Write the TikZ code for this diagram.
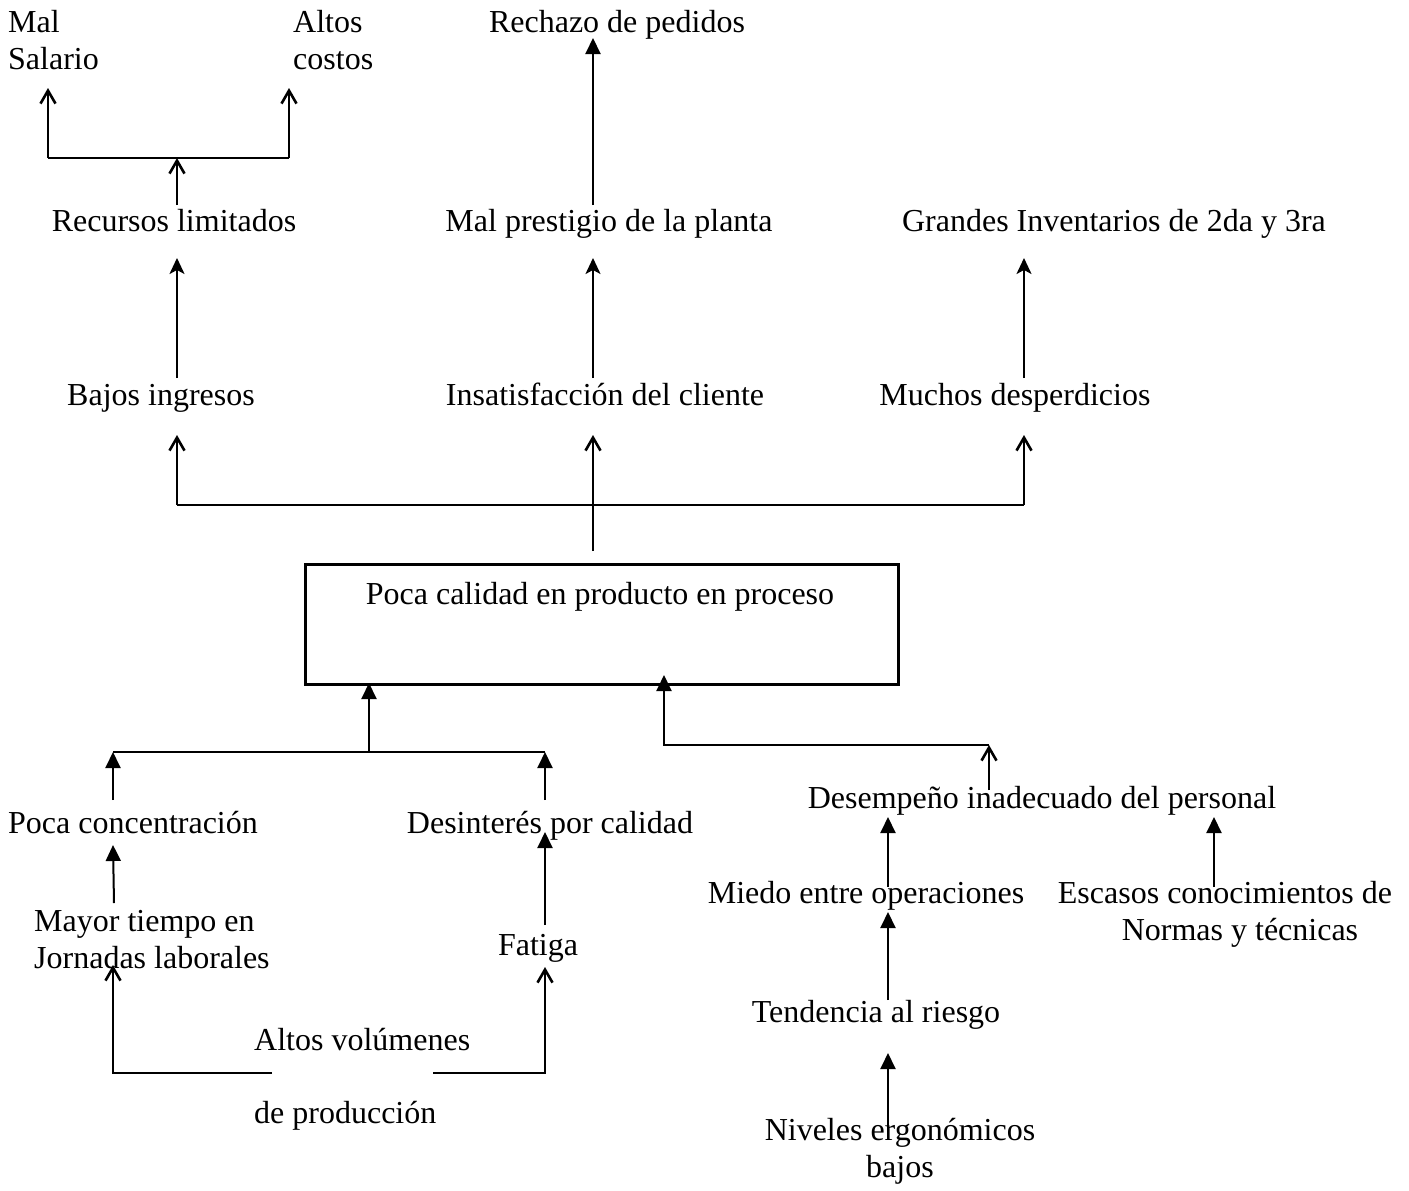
\documentclass[tikz,border=0pt]{standalone}
\usepackage{fontspec}
\setmainfont{Liberation Serif}
\usetikzlibrary{arrows.meta}
\begin{document}
\begin{tikzpicture}[x=1pt,y=-1pt,
  font=\fontsize{32}{37}\selectfont,
  lbl/.style={anchor=base, inner sep=0pt, align=center},
  lbll/.style={anchor=base west, inner sep=0pt, align=left},
  wire/.style={line width=2pt},
  openhd/.style={wire, -{Straight Barb[length=13pt,width=15pt,line width=2.6pt]}},
  stl/.style={wire, -{Stealth[length=16pt,width=15pt,inset=4pt]}},
  tri/.style={wire, -{Triangle[length=16pt,width=15pt]}},
]
\useasboundingbox (0,0) rectangle (1409,1191);

% ---- consequences (top) ----
% multi-line labels are placed by the baseline of their last line
\node[lbll] (salario) at (8,69) {Mal\\Salario};
\node[lbll] (costos) at (293,69) {Altos\\costos};
\node[lbl] (rechazo) at (617,32) {Rechazo de pedidos};
\node[lbl] (recursos) at (174,231) {Recursos limitados};
\node[lbl] (prestigio) at (609,231) {Mal prestigio de la planta};
\node[lbl] (inventarios) at (1114,231) {Grandes Inventarios de 2da y 3ra};
\node[lbl] (bajos) at (161,405) {Bajos ingresos};
\node[lbl] (insat) at (605,405) {Insatisfacción del cliente};
\node[lbl] (desperd) at (1015,405) {Muchos desperdicios};

% ---- central problem ----
\node[draw, line width=2.5pt, minimum width=593pt, minimum height=120pt,
      inner sep=0pt, anchor=north west] (box) at (304,563) {};
\node[lbl] (boxtext) at (600,604) {Poca calidad en producto en proceso};

% ---- causes (bottom) ----
\node[lbl] (concent) at (133,833) {Poca concentración};
\node[lbl] (desint) at (550,833) {Desinterés por calidad};
\node[lbll] (jornadas) at (34,968) {Mayor tiempo en\\Jornadas laborales};
\node[lbl] (fatiga) at (538,955) {Fatiga};
\node[lbll] (volumen) at (254,1123) {Altos volúmenes\\[36pt]de producción};
\node[lbl] (desemp) at (1042,808) {Desempeño inadecuado del personal};
\node[lbl] (miedo) at (866,903) {Miedo entre operaciones};
\node[lbl] (escasos) at (1225,940) {Escasos conocimientos de\\\hspace*{30pt}Normas y técnicas};
\node[lbl] (tendencia) at (876,1022) {Tendencia al riesgo};
\node[lbl] (niveles) at (900,1177) {Niveles ergonómicos\\bajos};

% ---- junction and end points ----
\coordinate (rA) at (177,205);   \coordinate (rJ) at (177,158);
\coordinate (rL) at (48,158);    \coordinate (rLt) at (48,88);
\coordinate (rR) at (289,158);   \coordinate (rRt) at (289,88);
\coordinate (pA) at (593,205);   \coordinate (pT) at (593,38);
\coordinate (bA) at (177,378);   \coordinate (bT) at (177,258);
\coordinate (iA) at (593,378);   \coordinate (iT) at (593,258);
\coordinate (dA) at (1024,378);  \coordinate (dT) at (1024,258);
\coordinate (xA) at (593,551);   \coordinate (xT) at (593,435);
\coordinate (xL) at (177,505);   \coordinate (xLt) at (177,435);
\coordinate (xR) at (1024,505);  \coordinate (xRt) at (1024,435);
\coordinate (lJ) at (369,752);   \coordinate (lT) at (369,683);
\coordinate (lL) at (113,752);   \coordinate (lLa) at (113,800);
\coordinate (lR) at (545,752);   \coordinate (lRa) at (545,800);
\coordinate (mA) at (114,903);   \coordinate (mT) at (113,845);
\coordinate (fA) at (545,925);   \coordinate (fT) at (545,832);
\coordinate (vL) at (272,1073);  \coordinate (vLc) at (113,1073);
\coordinate (vLt) at (113,965);
\coordinate (vR) at (433,1073);  \coordinate (vRc) at (545,1073);
\coordinate (vRt) at (545,967);
\coordinate (eA) at (989,790);   \coordinate (eJ) at (989,745);
\coordinate (eC) at (664,745);   \coordinate (eT) at (664,675);
\coordinate (oA) at (888,887);   \coordinate (oT) at (888,817);
\coordinate (sA) at (1214,887);  \coordinate (sT) at (1214,817);
\coordinate (tA) at (888,1000);  \coordinate (tT) at (888,912);
\coordinate (nA) at (888,1127);  \coordinate (nT) at (888,1053);

% ---- connectors: effects ----
\draw[openhd] (rA) -- (rJ);
\draw[wire] (rL) -- (rR);
\draw[openhd] (rL) -- (rLt);
\draw[openhd] (rR) -- (rRt);
\draw[tri] (pA) -- (pT);
\draw[stl] (bA) -- (bT);
\draw[stl] (iA) -- (iT);
\draw[stl] (dA) -- (dT);
\draw[openhd] (xA) -- (xT);
\draw[wire] (xL) -- (xR);
\draw[openhd] (xL) -- (xLt);
\draw[openhd] (xR) -- (xRt);

% ---- connectors: causes ----
\draw[tri] (lJ) -- (lT);
\draw[wire] (lL) -- (lR);
\draw[tri] (lLa) -- (lL);
\draw[tri] (lRa) -- (lR);
\draw[tri] (mA) -- (mT);
\draw[tri] (fA) -- (fT);
\draw[openhd] (vL) -- (vLc) -- (vLt);
\draw[openhd] (vR) -- (vRc) -- (vRt);
\draw[openhd] (eA) -- (eJ);
\draw[tri] (eJ) -- (eC) -- (eT);
\draw[tri] (oA) -- (oT);
\draw[tri] (sA) -- (sT);
\draw[tri] (tA) -- (tT);
\draw[tri] (nA) -- (nT);
\end{tikzpicture}
\end{document}
